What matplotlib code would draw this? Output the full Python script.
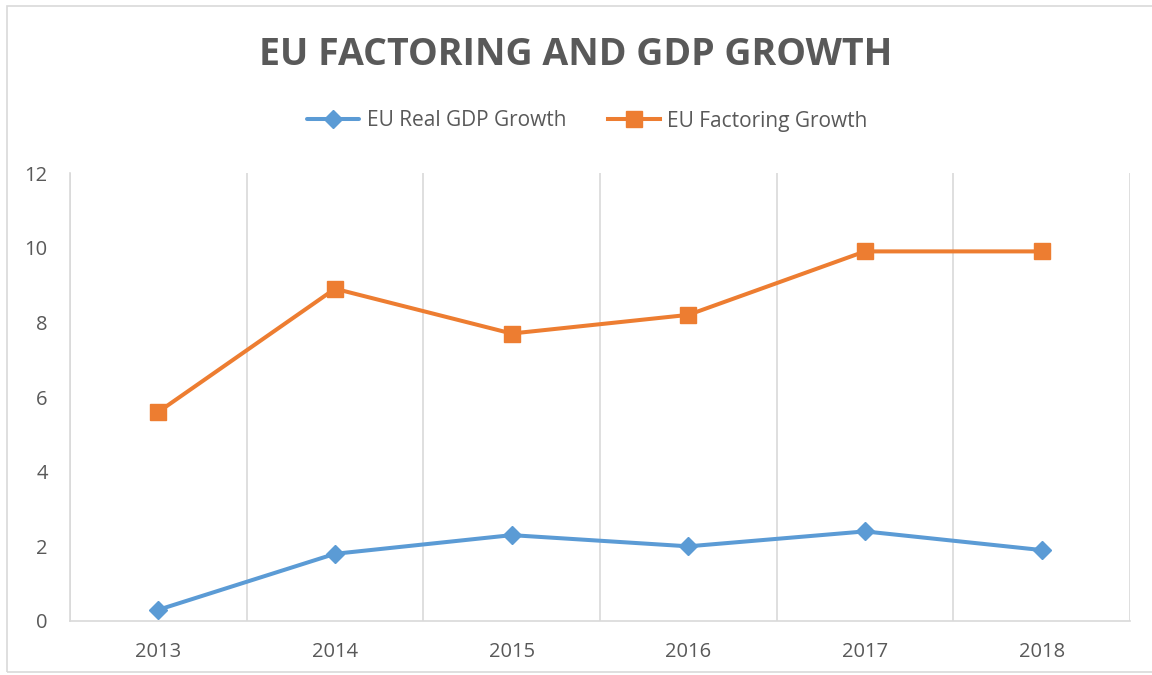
import matplotlib
matplotlib.use("Agg")
import matplotlib.pyplot as plt
from matplotlib.patches import Rectangle

years = ["2013", "2014", "2015", "2016", "2017", "2018"]
gdp_growth = [0.3, 1.8, 2.3, 2.0, 2.4, 1.9]
factoring_growth = [5.6, 8.9, 7.7, 8.2, 9.9, 9.9]
y_ticks = [0, 2, 4, 6, 8, 10, 12]

TEXT = "#595959"
GRID = "#D9D9D9"
BLUE = "#5B9BD5"
ORANGE = "#ED7D31"

plt.rcParams["font.family"] = ["Open Sans", "DejaVu Sans"]

fig = plt.figure(figsize=(11.52, 6.75), dpi=100)
fig.patches.append(Rectangle((7/1152, 0.004), 1.2, 1 - 6/675 - 0.004, transform=fig.transFigure,
                             fill=False, edgecolor=GRID, linewidth=1.2))

ax = fig.add_axes([70/1152, 1 - 621/675, (1130 - 70)/1152, (621 - 173)/675])
x = list(range(len(years)))
ax.plot(x, gdp_growth, color=BLUE, linewidth=2.9, marker="D", markersize=9,
        label="EU Real GDP Growth", solid_capstyle="round")
ax.plot(x, factoring_growth, color=ORANGE, linewidth=2.9, marker="s", markersize=12,
        label="EU Factoring Growth")

ax.set_xlim(-0.5, len(years) - 0.5)
ax.set_ylim(0, 12)
ax.set_yticks(y_ticks)
ax.set_xticks(x)
ax.set_xticklabels(years)
ax.set_xticks([i + 0.5 for i in range(-1, len(years))], minor=True)
ax.grid(True, axis="x", which="minor", color=GRID, linewidth=1.2)
ax.grid(False, axis="x", which="major")
ax.grid(False, axis="y")
ax.tick_params(axis="both", which="both", length=0, colors=TEXT, labelsize=14.5)
ax.tick_params(axis="x", pad=15)
ax.tick_params(axis="y", pad=16)
for s in ["top", "right"]:
    ax.spines[s].set_visible(False)
for s in ["left", "bottom"]:
    ax.spines[s].set_color(GRID)
    ax.spines[s].set_linewidth(1.2)
ax.set_axisbelow(True)

fig.text(0.5, 1 - 55/675, "EU FACTORING AND GDP GROWTH", ha="center", va="center",
         fontsize=27, fontweight="bold", color=TEXT)

leg = fig.legend(loc="center", bbox_to_anchor=(0.51, 1 - 121/675), ncol=2, frameon=False,
                 fontsize=15, handlelength=2.5, columnspacing=2.0, handletextpad=0.35)
for t in leg.get_texts():
    t.set_color(TEXT)

fig.savefig("out.png", dpi=100)
